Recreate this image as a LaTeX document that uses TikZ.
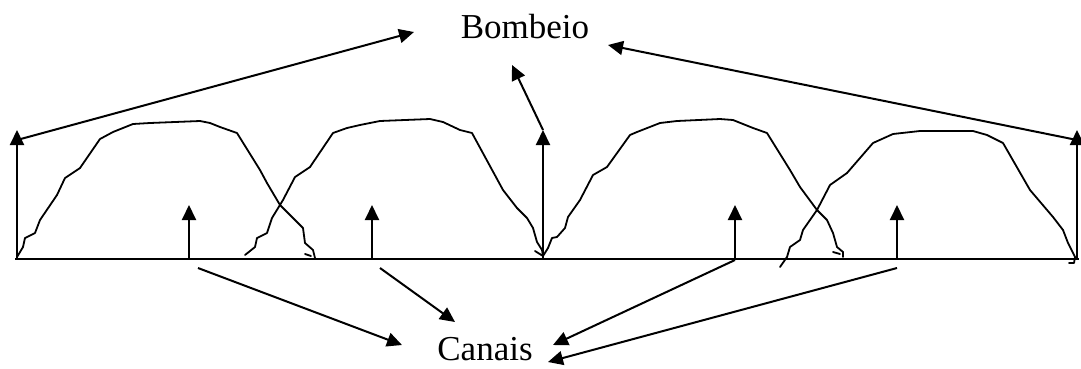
\documentclass[tikz,border=0pt]{standalone}
\usepackage{fontspec}
\setmainfont{Liberation Serif}
\usetikzlibrary{arrows.meta}
\begin{document}
\begin{tikzpicture}[x=1pt,y=-1pt,
  ln/.style={line width=2pt,line join=round},
  arr/.style={ln,-{Triangle[length=15pt,width=14pt]}},
  hump/.style={line width=1.8pt,line join=round,line cap=round},
  lbl/.style={font=\fontsize{35}{40}\selectfont,anchor=base,inner sep=0pt}]
\useasboundingbox (0,0) rectangle (1081,368);
% labels
\node[lbl] (bomb) at (525,38) {Bombeio};
\node[lbl] (can) at (485,360) {Canais};
% axis
\coordinate (ax0) at (15,259);
\coordinate (ax1) at (1079,259);
\draw[ln] (ax0) -- (ax1);
% pump arrows
\coordinate (p1b) at (17,259);  \coordinate (p1t) at (17,130);
\coordinate (p2b) at (543,259); \coordinate (p2t) at (543,130);
\coordinate (p3b) at (1077,259);\coordinate (p3t) at (1077,130);
\draw[arr] (p1b) -- (p1t);
\draw[arr] (p2b) -- (p2t);
\draw[arr] (p3b) -- (p3t);
% channel arrows
\coordinate (c1b) at (189,259); \coordinate (c1t) at (189,205);
\coordinate (c2b) at (372,259); \coordinate (c2t) at (372,205);
\coordinate (c3b) at (735,259); \coordinate (c3t) at (735,205);
\coordinate (c4b) at (897,259); \coordinate (c4t) at (897,205);
\draw[arr] (c1b) -- (c1t);
\draw[arr] (c2b) -- (c2t);
\draw[arr] (c3b) -- (c3t);
\draw[arr] (c4b) -- (c4t);
% humps
\draw[hump] (17,257) -- (20,252) -- (23,247) -- (25,238) -- (35,233) -- (40,220) -- (57,195) -- (65,178) -- (80,168) -- (100,139) -- (113,132) -- (133,124) -- (150,123) -- (200,121) -- (210,123) -- (220,127) -- (237,133) -- (260,170) -- (267,183) -- (280,205) -- (293,218) -- (303,228) -- (305,243) -- (313,250) -- (315,258);
\draw[hump] (305,254) -- (311,256);
\draw[hump] (245,255) -- (255,247) -- (257,238) -- (267,233) -- (272,218) -- (283,200) -- (295,177) -- (310,167) -- (333,133) -- (347,128) -- (360,125) -- (380,121) -- (430,119) -- (443,122) -- (460,130) -- (472,133) -- (503,190) -- (517,208) -- (527,218) -- (533,228) -- (537,242) -- (542,250) -- (543,256);
\draw[hump] (535,251) -- (543,256);
\draw[hump] (543,256) -- (548,248) -- (552,238) -- (557,237) -- (565,228) -- (568,217) -- (580,200) -- (593,175) -- (607,167) -- (630,135) -- (637,132) -- (660,123) -- (677,121) -- (720,119) -- (733,120) -- (753,128) -- (767,133) -- (790,170) -- (800,187) -- (817,210) -- (827,220) -- (833,233) -- (837,247) -- (843,252) -- (843,257);
\draw[hump] (833,252) -- (840,254);
\draw[hump] (780,267) -- (787,257) -- (790,247) -- (800,240) -- (803,230) -- (817,210) -- (830,185) -- (847,173) -- (873,143) -- (893,134) -- (920,131) -- (973,131) -- (987,135) -- (1003,143) -- (1030,190) -- (1053,217) -- (1063,230) -- (1068,243) -- (1075,257) -- (1074,263) -- (1069,263);
% arrows to Bombeio
\coordinate (bA) at (414,32);
\coordinate (bB) at (512,65);
\coordinate (bC) at (608,45);
\coordinate (p1s) at (17,140);
\coordinate (p3s) at (1077,140);
\draw[arr] (p1s) -- (bA);
\draw[arr] (p2t) -- (bB);
\draw[arr] (p3s) -- (bC);
% arrows to Canais
\coordinate (s1) at (198,268); \coordinate (e1) at (402,345);
\coordinate (s2) at (380,268); \coordinate (e2) at (455,322);
\coordinate (s3) at (735,260); \coordinate (e3) at (553,345);
\coordinate (s4) at (897,268); \coordinate (e4) at (548,362);
\draw[arr] (s1) -- (e1);
\draw[arr] (s2) -- (e2);
\draw[arr] (s3) -- (e3);
\draw[arr] (s4) -- (e4);
\end{tikzpicture}
\end{document}
